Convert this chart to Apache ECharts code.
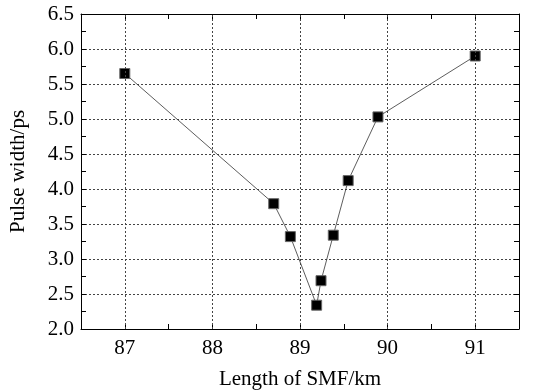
<!DOCTYPE html>
<html>
<head>
<meta charset="utf-8">
<script src="https://cdn.jsdelivr.net/npm/echarts@6/dist/echarts.min.js"></script>
<style>
  html, body { margin: 0; padding: 0; background: #fff; }
  #main { width: 534px; height: 390px; }
</style>
</head>
<body>
<div id="main"></div>
<script>
// Data
const smfLength = [87.0, 88.7, 88.89, 89.19, 89.24, 89.38, 89.55, 89.89, 91.0];
const pulseWidth = [5.65, 3.79, 3.32, 2.34, 2.69, 3.34, 4.12, 5.03, 5.90];
const xTicks = [87, 88, 89, 90, 91];

let myChart = echarts.init(document.getElementById("main"));

const font = "Liberation Serif";
const gridLine = { type: [2, 2], color: "#444", width: 1 };

let baseX = {
  type: "value",
  min: 86.5,
  max: 91.5,
  interval: 0.5,
  axisLine: { show: true, onZero: false, lineStyle: { color: "#000", width: 1 } },
  axisTick: { show: true, inside: true, length: 5, lineStyle: { color: "#000" } },
  splitLine: { show: false },
};

let baseY = {
  type: "value",
  min: 2,
  max: 6.5,
  interval: 0.5,
  axisLine: { show: true, onZero: false, lineStyle: { color: "#000", width: 1 } },
  axisTick: { show: true, inside: true, length: 5, lineStyle: { color: "#000" } },
  minorTick: { show: true, splitNumber: 2, length: 5, lineStyle: { color: "#000" } },
};

let options = {
  animation: false,
  grid: { left: 81, right: 15, top: 14, bottom: 61, outerBoundsMode: "none", containLabel: false },
  xAxis: [
    Object.assign({}, baseX, {
      position: "bottom",
      name: "Length of SMF/km",
      nameLocation: "middle",
      nameGap: 40,
      nameTextStyle: { fontFamily: font, fontSize: 21, color: "#000" },
      axisLabel: {
        customValues: xTicks,
        margin: 9,
        fontFamily: font,
        fontSize: 21,
        color: "#000",
      },
    }),
    Object.assign({}, baseX, { position: "top", axisLabel: { show: false } }),
  ],
  yAxis: [
    Object.assign({}, baseY, {
      position: "left",
      name: "Pulse width/ps",
      nameLocation: "middle",
      nameGap: 52,
      nameTextStyle: { fontFamily: font, fontSize: 21, color: "#000" },
      axisLabel: {
        margin: 7,
        fontFamily: font,
        fontSize: 21,
        color: "#000",
        formatter: (v) => v.toFixed(1),
      },
      splitLine: { show: true, lineStyle: gridLine },
    }),
    Object.assign({}, baseY, {
      position: "right",
      axisLabel: { show: false },
      splitLine: { show: false },
    }),
  ],
  series: [
    {
      type: "line",
      data: smfLength.map((x, i) => [x, pulseWidth[i]]),
      symbol: "rect",
      symbolSize: 10,
      itemStyle: { color: "#000", borderColor: "#666", borderWidth: 1 },
      lineStyle: { color: "#333", width: 0.8 },
      markLine: {
        silent: true,
        symbol: "none",
        label: { show: false },
        lineStyle: gridLine,
        data: xTicks.map((v) => ({ xAxis: v })),
      },
      z: 3,
    },
  ],
};

myChart.setOption(options);
</script>
</body>
</html>
